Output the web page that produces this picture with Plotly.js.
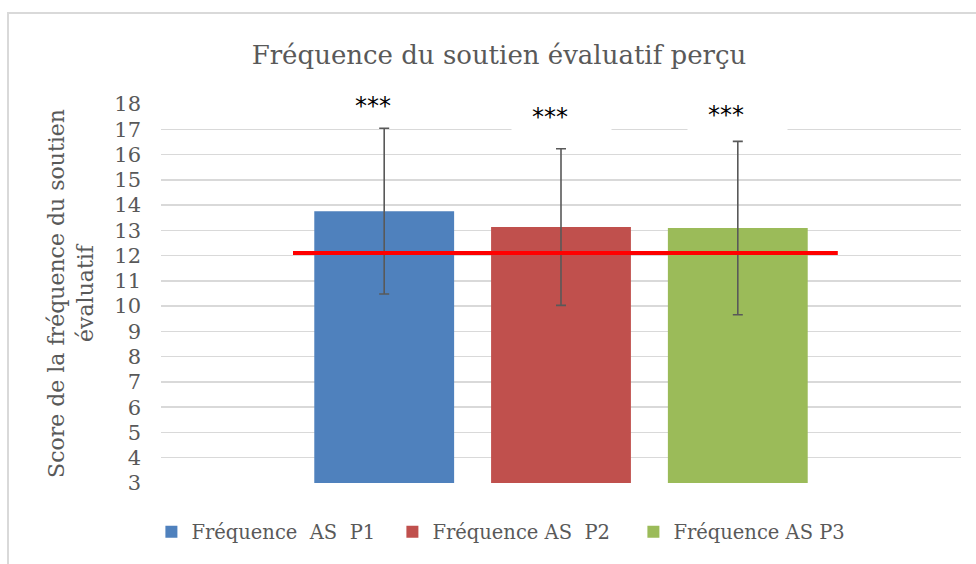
<!DOCTYPE html>
<html>
<head>
<meta charset="utf-8">
<script src="https://cdn.plot.ly/plotly-3.0.1.min.js"></script>
<style>
  html, body { margin: 0; padding: 0; background: #ffffff; }
  #chart { width: 976px; height: 564px; }
  #frame { position: absolute; left: 7px; top: 12px; width: 1000px; height: 600px;
           border-left: 2px solid #D9D9D9; border-top: 2px solid #D9D9D9; pointer-events: none; }
</style>
</head>
<body>
<div id="chart"></div>
<div id="frame"></div>
<script>
// ---- data ----
const category = [''];
const seriesNames = ['Fréquence\u00a0 AS\u00a0 P1', 'Fréquence AS\u00a0 P2', 'Fréquence AS P3'];
const means = [13.76, 13.13, 13.09];
const errors = [3.28, 3.10, 3.43];
const sigLabels = ['***', '***', '***'];
const sigY = [17.93, 17.5, 17.6];
const referenceValue = 12.1;
const yMin = 3, yMax = 18;

// ---- styling ----
const colors = ['#4F81BD', '#C0504D', '#9BBB59'];
const textColor = '#595959';
const fontFam = '"DejaVu Serif", "Liberation Serif", serif';
const bargap = 0.337, bargroupgap = 0.209;

const traces = seriesNames.map((name, i) => ({
  type: 'bar',
  name: name,
  x: category,
  y: [means[i]],
  base: 0,
  marker: { color: colors[i] },
  error_y: { type: 'data', array: [errors[i]], visible: true, color: '#595959', thickness: 1.6, width: 5 },
  hoverinfo: 'skip'
}));

// positions of bars in category units (from group layout)
const n = seriesNames.length;
const slot = (1 - bargap) / n;
const offsets = seriesNames.map((_, i) => -0.5 * (1 - bargap) + slot * (i + 0.5));

const annotations = sigLabels.map((t, i) => ({
  x: offsets[i], y: sigY[i], xref: 'x', yref: 'y',
  text: t + '\u00a0\u00a0\u00a0', showarrow: false,
  font: { family: '"DejaVu Sans", sans-serif', size: 24, color: '#000000' },
  bgcolor: '#ffffff', width: 95, height: 29, borderpad: 2,
  xanchor: 'center', yanchor: 'middle', align: 'center', valign: 'middle'
}));

const layout = {
  width: 976, height: 564,
  margin: { l: 161, r: 15, t: 104, b: 81, autoexpand: false },
  paper_bgcolor: 'rgba(0,0,0,0)', plot_bgcolor: '#ffffff',
  barmode: 'group', bargap: bargap, bargroupgap: bargroupgap,
  title: {
    text: 'Fréquence du soutien évaluatif perçu',
    x: 499 / 976, xref: 'container', xanchor: 'center',
    y: 1 - 55 / 564, yref: 'container', yanchor: 'middle',
    font: { family: fontFam, size: 26, color: textColor }
  },
  xaxis: { showticklabels: false, showgrid: false, zeroline: false, showline: false, ticks: '', fixedrange: true },
  yaxis: {
    range: [yMin, yMax], tick0: yMin, dtick: 1, showgrid: true, gridcolor: '#D9D9D9', gridwidth: 1.5,
    zeroline: false, showline: false, ticks: '', ticklabelstandoff: 19,
    tickfont: { family: fontFam, size: 21, color: textColor },
    title: { text: 'Score de la fréquence du soutien<br>évaluatif', standoff: 14,
             font: { family: fontFam, size: 22, color: textColor } }
  },
  shapes: [{
    type: 'line', xref: 'x', yref: 'y', x0: -0.335, x1: 0.346, y0: referenceValue, y1: referenceValue,
    line: { color: '#FF0000', width: 4 }, layer: 'above'
  }],
  annotations: annotations,
  showlegend: true,
  legend: {
    orientation: 'h', x: -0.012, xanchor: 'left', y: -0.078, yanchor: 'top',
    entrywidth: 196, entrywidthmode: 'pixels',
    font: { family: fontFam, size: 19.5, color: textColor }, traceorder: 'normal'
  }
};

Plotly.newPlot('chart', traces, layout, { displayModeBar: false, staticPlot: true });
</script>
</body>
</html>
